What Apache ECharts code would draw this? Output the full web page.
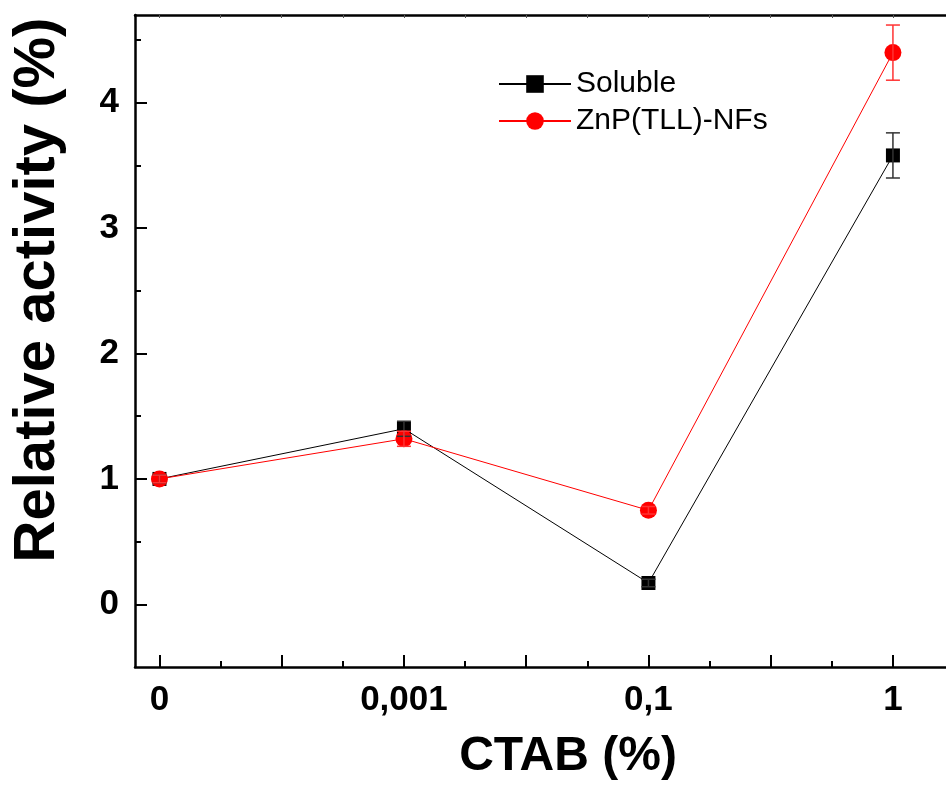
<!DOCTYPE html>
<html>
<head>
<meta charset="utf-8">
<script src="https://cdn.jsdelivr.net/npm/echarts@6/dist/echarts.min.js"></script>
<style>
  html, body { margin: 0; padding: 0; background: #fff; }
  #chart { width: 946px; height: 785px; }
</style>
</head>
<body>
<div id="chart"></div>
<script>
// CTAB concentrations (%), plotted at evenly spaced positions
const categories = ['0', '0,001', '0,1', '1'];

// Relative activity (%) and standard deviations
const soluble    = [1.00, 1.40, 0.17, 3.58];
const solubleErr = [0.03, 0.06, 0.03, 0.18];
const znp        = [1.00, 1.32, 0.75, 4.40];
const znpErr     = [0.03, 0.06, 0.03, 0.22];

// Axis ticks
const xMajorTicks = [0, 0.5, 1, 1.5, 2, 2.5, 3];
const xMinorTicks = [0.25, 0.75, 1.25, 1.75, 2.25, 2.75, 3.25];
const xTopTicks   = [0, 0.25, 0.5, 0.75, 1, 1.25, 1.5, 1.75, 2, 2.25, 2.5, 2.75, 3, 3.25];
const yMajorTicks = [0, 1, 2, 3, 4];
const yMinorTicks = [0.5, 1.5, 2.5, 3.5, 4.5];

const FONT = 'Arial, "Liberation Sans", Helvetica, sans-serif';
const X_MIN = -0.1, X_MAX = 3.442;
const Y_MIN = -0.5, Y_MAX = 4.7;

const toPoints = vals => vals.map((v, i) => [i, v]);
const toErr = (vals, errs) => vals.map((v, i) => [i, v, errs[i]]);

function errorBar(color) {
  return function (params, api) {
    const x = api.value(0), y = api.value(1), e = api.value(2);
    const top = api.coord([x, y + e]);
    const bot = api.coord([x, y - e]);
    const hw = 7;
    const style = { stroke: color, lineWidth: 1.5 };
    return {
      type: 'group',
      children: [
        { type: 'line', shape: { x1: top[0], y1: top[1], x2: bot[0], y2: bot[1] }, style },
        { type: 'line', shape: { x1: top[0] - hw, y1: top[1], x2: top[0] + hw, y2: top[1] }, style },
        { type: 'line', shape: { x1: bot[0] - hw, y1: bot[1], x2: bot[0] + hw, y2: bot[1] }, style }
      ]
    };
  };
}

const axisLineStyle = { color: '#000', width: 2.5 };

const chart = echarts.init(document.getElementById('chart'));
chart.setOption({
  animation: false,
  backgroundColor: '#fff',
  // the frame runs past the right edge of the canvas, so no right border shows
  grid: { left: 135, top: 15, width: 866, height: 652, containLabel: false, outerBoundsMode: 'none' },
  legend: {
    orient: 'vertical',
    left: 493,
    top: 64,
    itemWidth: 72,
    itemHeight: 22,
    itemGap: 7,
    textStyle: { fontFamily: FONT, fontSize: 30, color: '#000', padding: [0, 0, 0, 0] },
    data: ['Soluble', 'ZnP(TLL)-NFs']
  },
  xAxis: [
    {
      type: 'value', position: 'bottom', min: X_MIN, max: X_MAX,
      name: 'CTAB (%)', nameLocation: 'middle', nameGap: 66,
      nameTextStyle: { fontFamily: FONT, fontSize: 48, fontWeight: 'bold', color: '#000' },
      axisLine: { show: true, onZero: false, lineStyle: axisLineStyle },
      axisTick: { show: true, inside: true, length: 12, customValues: xMajorTicks, lineStyle: { color: '#000', width: 2 } },
      axisLabel: {
        show: true, margin: 16, customValues: [0, 1, 2, 3],
        formatter: v => categories[Math.round(v)],
        fontFamily: FONT, fontSize: 35, fontWeight: 'bold', color: '#000'
      },
      splitLine: { show: false }
    },
    {
      type: 'value', position: 'bottom', min: X_MIN, max: X_MAX,
      axisLine: { show: false, onZero: false },
      axisTick: { show: true, inside: true, length: 6, customValues: xMinorTicks, lineStyle: { color: '#000', width: 2 } },
      axisLabel: { show: false },
      splitLine: { show: false }
    },
    {
      type: 'value', position: 'top', min: X_MIN, max: X_MAX,
      axisLine: { show: true, onZero: false, lineStyle: axisLineStyle },
      axisTick: { show: true, inside: true, length: 3, customValues: xTopTicks, lineStyle: { color: '#555', width: 1 } },
      axisLabel: { show: false },
      splitLine: { show: false }
    }
  ],
  yAxis: [
    {
      type: 'value', position: 'left', min: Y_MIN, max: Y_MAX,
      name: 'Relative activity (%)', nameLocation: 'middle', nameGap: 68, nameRotate: 90,
      nameTextStyle: { fontFamily: FONT, fontSize: 58, fontWeight: 'bold', color: '#000', padding: [0, 0, 0, 102] },
      axisLine: { show: true, onZero: false, lineStyle: axisLineStyle },
      axisTick: { show: true, inside: true, length: 12, customValues: yMajorTicks, lineStyle: { color: '#000', width: 2 } },
      axisLabel: {
        show: true, margin: 16, customValues: yMajorTicks,
        fontFamily: FONT, fontSize: 35, fontWeight: 'bold', color: '#000'
      },
      splitLine: { show: false }
    },
    {
      type: 'value', position: 'left', min: Y_MIN, max: Y_MAX,
      axisLine: { show: false, onZero: false },
      axisTick: { show: true, inside: true, length: 6, customValues: yMinorTicks, lineStyle: { color: '#000', width: 2 } },
      axisLabel: { show: false },
      splitLine: { show: false }
    }
  ],
  series: [
    {
      name: 'Soluble', type: 'line', xAxisIndex: 0, yAxisIndex: 0,
      data: toPoints(soluble),
      symbol: 'rect', symbolSize: 14,
      lineStyle: { color: '#000', width: 1 },
      itemStyle: { color: '#000' },
      z: 2
    },
    {
      name: 'ZnP(TLL)-NFs', type: 'line', xAxisIndex: 0, yAxisIndex: 0,
      data: toPoints(znp),
      symbol: 'circle', symbolSize: 17,
      lineStyle: { color: '#ff0000', width: 1 },
      itemStyle: { color: '#ff0000' },
      z: 3
    },
    {
      name: 'Soluble error', type: 'custom', xAxisIndex: 0, yAxisIndex: 0,
      data: toErr(soluble, solubleErr),
      renderItem: errorBar('#333'),
      clip: false, silent: true, z: 4
    },
    {
      name: 'ZnP(TLL)-NFs error', type: 'custom', xAxisIndex: 0, yAxisIndex: 0,
      data: toErr(znp, znpErr),
      renderItem: errorBar('#ff3333'),
      clip: false, silent: true, z: 4
    }
  ]
});
</script>
</body>
</html>
